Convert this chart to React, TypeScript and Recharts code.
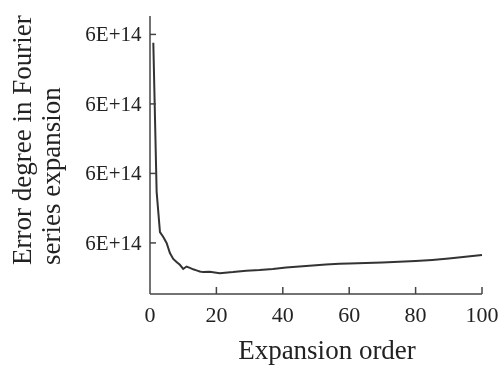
import React from "react";
import { LineChart, Line, XAxis, YAxis } from "recharts";

const orders = [1, 2, 3, 4, 5, 6, 7, 8, 9, 10, 11, 12, 13, 14, 15, 16, 18, 21, 25, 29, 33, 37, 41, 45, 49, 53, 57, 60, 65, 70, 75, 80, 85, 90, 95, 100];
const errors = [
  6.176e14, 5.747e14, 5.631e14, 5.617e14, 5.6e14, 5.571e14, 5.554e14, 5.545e14, 5.537e14, 5.525e14,
  5.532e14, 5.528e14, 5.524e14, 5.521e14, 5.518e14, 5.516e14, 5.517e14, 5.513e14, 5.516e14, 5.52e14,
  5.522e14, 5.525e14, 5.529e14, 5.532e14, 5.535e14, 5.538e14, 5.54e14, 5.541e14, 5.542e14, 5.544e14,
  5.546e14, 5.548e14, 5.551e14, 5.555e14, 5.56e14, 5.565e14,
];
const xTicks = [0, 20, 40, 60, 80, 100];
const yTicks = [5.6e14, 5.8e14, 6.0e14, 6.2e14];
const yDomain = [5.453e14, 6.253e14];
const xLabel = "Expansion order";
const yLabelLines = ["Error degree in Fourier", "series expansion"];

const data = orders.map((o, i) => ({ order: o, error: errors[i] }));

const FONT = '"Liberation Serif", "Times New Roman", serif';
const INK = "#222";

const YTick = (props: any) => {
  const { x, y, payload } = props;
  const label = Number(payload.value).toExponential(0).toUpperCase();
  return (
    <g>
      <line x1={x} x2={x + 6} y1={y} y2={y} stroke="#444" strokeWidth={1.5} />
      <text x={x - 8.5} y={y} dy="0.33em" textAnchor="end" fontFamily={FONT} fontSize={21} fill={INK}>
        {label}
      </text>
    </g>
  );
};

const XTick = (props: any) => {
  const { x, y, payload } = props;
  return (
    <g>
      {payload.value !== 0 && <line x1={x} x2={x} y1={y} y2={y - 7} stroke="#444" strokeWidth={1.5} />}
      <text x={x} y={y + 28} textAnchor="middle" fontFamily={FONT} fontSize={22} fill={INK}>
        {payload.value}
      </text>
    </g>
  );
};

export default function App() {
  return (
    <div style={{ position: "fixed", left: 0, top: 0, width: 499, height: 370, overflow: "hidden" }}>
      <LineChart
        width={499}
        height={370}
        data={data}
        margin={{ top: 16, right: 17, left: 0, bottom: 46 }}
      >
        <XAxis
          dataKey="order"
          type="number"
          domain={[0, 100]}
          ticks={xTicks}
          interval={0}
          tickLine={false}
          tickSize={0}
          tickMargin={0}
          axisLine={{ stroke: "#444", strokeWidth: 1.5 }}
          tick={<XTick />}
          height={30}
        />
        <YAxis
          type="number"
          domain={yDomain}
          ticks={yTicks}
          interval={0}
          allowDataOverflow
          tickLine={false}
          tickSize={0}
          tickMargin={0}
          axisLine={{ stroke: "#444", strokeWidth: 1.5 }}
          tick={<YTick />}
          width={150}
        />
        <Line
          dataKey="error"
          type="linear"
          stroke="#333"
          strokeWidth={2}
          dot={false}
          isAnimationActive={false}
        />
      </LineChart>
      <svg width={499} height={370} style={{ position: "absolute", left: 0, top: 0, pointerEvents: "none" }}>
        <text x={327} y={359} textAnchor="middle" fontFamily={FONT} fontSize={27} fill={INK}>
          {xLabel}
        </text>
        {yLabelLines.map((line, i) => (
          <text
            key={i}
            x={0}
            y={0}
            transform={`translate(${31 + i * 29}, 265) rotate(-90)`}
            textAnchor="start"
            fontFamily={FONT}
            fontSize={27}
            fill={INK}
          >
            {line}
          </text>
        ))}
      </svg>
    </div>
  );
}
